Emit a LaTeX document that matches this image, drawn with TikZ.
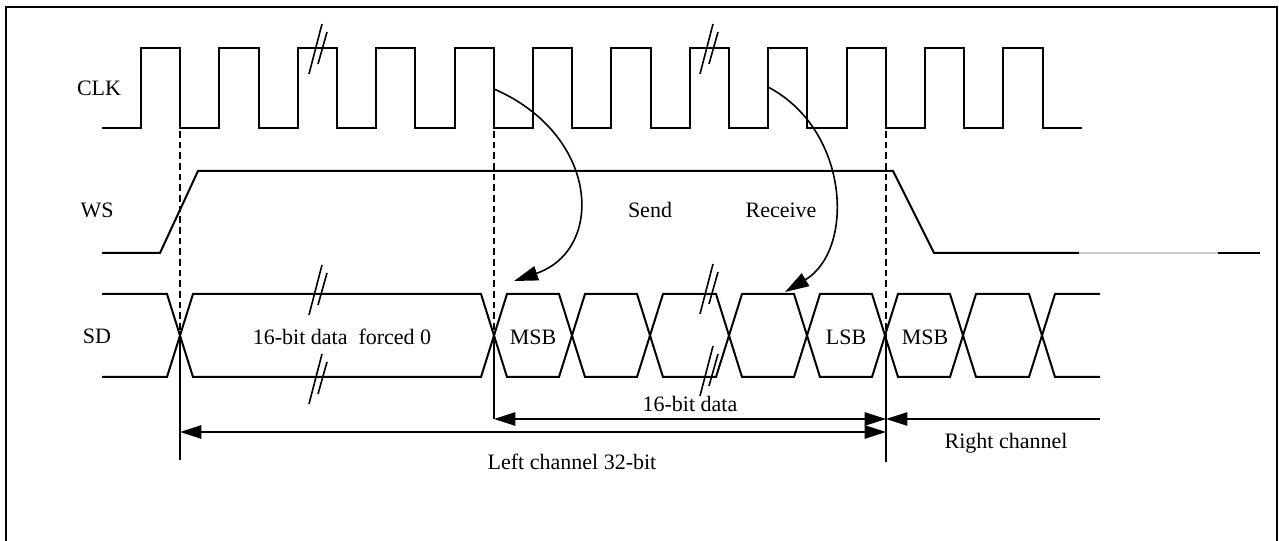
\documentclass[tikz,border=0pt]{standalone}
\usepackage{fontspec}
\setmainfont{Liberation Serif}
\usetikzlibrary{arrows.meta}

\tikzset{every picture/.style={line width=0.75pt}}
\tikzset{
  sig/.style={line width=1.5pt},
  guide/.style={line width=1pt, dash pattern=on 5pt off 3pt},
  tick/.style={line width=1pt},
  dimarr/.style={line width=1.1pt, {Triangle[length=16pt,width=10pt]}-{Triangle[length=16pt,width=10pt]}},
  onearr/.style={line width=1.1pt, -{Triangle[length=16pt,width=10pt]}},
  bendarr/.style={line width=1.2pt, -{Triangle[length=18pt,width=11pt]}},
  lbl/.style={font=\fontsize{16.5}{19}\selectfont, inner sep=1pt},
  brk/.pic={\draw[line width=1.2pt] (-9,-24) -- (4,26) (0,-14) -- (9,18);}
}

\begin{document}
\begin{tikzpicture}[x=0.75pt,y=0.75pt,yscale=-1,xscale=1]
\useasboundingbox (0,0) rectangle (1279,541);

%Shape: Frame
\draw [line width=1pt] (6,560) -- (6,7) -- (1277,7) -- (1277,560) ;

% Text Node
\node[lbl] (clk) at (99,88) {CLK};
% Text Node
\node[lbl] (ws) at (97,210) {WS};
% Text Node
\node[lbl] (sd) at (97,336) {SD};

%Shape: CLK wave
\draw [sig] (102,128) -- (141,128) \foreach \k in {1,...,12} { -- ++(0,-80) -- ++(39.2,0) -- ++(0,80) -- ++(39.2,0) } ;

%Shape: WS wave
\draw [sig] (102,253) -- (160,253) -- (198,171) -- (893,171) -- (934,253) -- (1079,253) ;
\draw [line width=0.9pt, black!20] (1079,253) -- (1218,253) ;
\draw [sig] (1218,253) -- (1260,253) ;

%Shape: SD bus
\draw [sig] (102,294) \foreach \c/\ya/\yb in {180/294/377,494/377/294,572/294/377,650/377/294,729/294/377,807/377/294,885/294/377,963/377/294,1042/294/377} { -- (\c-13,\ya) -- (\c+13,\yb) } -- (1100,377) ;
\draw [sig] (102,377) \foreach \c/\ya/\yb in {180/377/294,494/294/377,572/377/294,650/294/377,729/377/294,807/294/377,885/377/294,963/294/377,1042/377/294} { -- (\c-13,\ya) -- (\c+13,\yb) } -- (1100,294) ;

%Shape: breaks
\path (318,50) pic {brk} (709,50) pic {brk} ;
\path (318,291) pic {brk} (318,380) pic {brk} ;
\path (709,290) pic {brk} (709,372) pic {brk} ;

%Shape: guides
\coordinate (g1t) at (180,131) ; \coordinate (g1m) at (180,336) ; \coordinate (g1b) at (180,460) ;
\coordinate (g2t) at (494,131) ; \coordinate (g2m) at (494,336) ;
\coordinate (g3t) at (886,131) ; \coordinate (g3m) at (886,336) ; \coordinate (g3b) at (886,462) ;
\draw [guide] (g1t) -- (g1m) ;
\draw [guide] (g2t) -- (g2m) ;
\draw [guide] (g3t) -- (g3m) ;

%Shape: dimension lines
\coordinate (d16l) at (494,419) ; \coordinate (d16r) at (886,419) ;
\coordinate (dLl) at (180,432) ; \coordinate (dLr) at (886,432) ;
\coordinate (dRe) at (1100,419) ;
\draw [tick] (g1m) -- (g1b) ;
\draw [tick] (g2m) -- (d16l) ;
\draw [tick] (g3m) -- (g3b) ;
\draw [dimarr] (d16l) -- (d16r) ;
\draw [dimarr] (dLl) -- (dLr) ;
\draw [onearr] (dRe) -- (d16r) ;

%Shape: send / receive arrows
\coordinate (snd0) at (494,89) ; \coordinate (snd1) at (514,281) ;
\coordinate (rcv0) at (768,87) ; \coordinate (rcv1) at (785,292) ;
\draw [bendarr] (snd0) .. controls (600,135) and (605,250) .. (snd1) ;
\draw [bendarr] (rcv0) .. controls (850,130) and (855,250) .. (rcv1) ;

% Text Node
\node[lbl] (send) at (650,210) {Send};
% Text Node
\node[lbl] (recv) at (781,210) {Receive};
% Text Node
\node[lbl] (forced) at (342,337) {16-bit data\ \ forced 0};
% Text Node
\node[lbl] (msb1) at (533,337) {MSB};
% Text Node
\node[lbl] (lsb) at (846,337) {LSB};
% Text Node
\node[lbl] (msb2) at (925,337) {MSB};
% Text Node
\node[lbl] (bits16) at (690,404) {16-bit data};
% Text Node
\node[lbl] (left) at (572,462) {Left channel 32-bit};
% Text Node
\node[lbl] (right) at (1006,443) {Right channel};

\end{tikzpicture}
\end{document}
